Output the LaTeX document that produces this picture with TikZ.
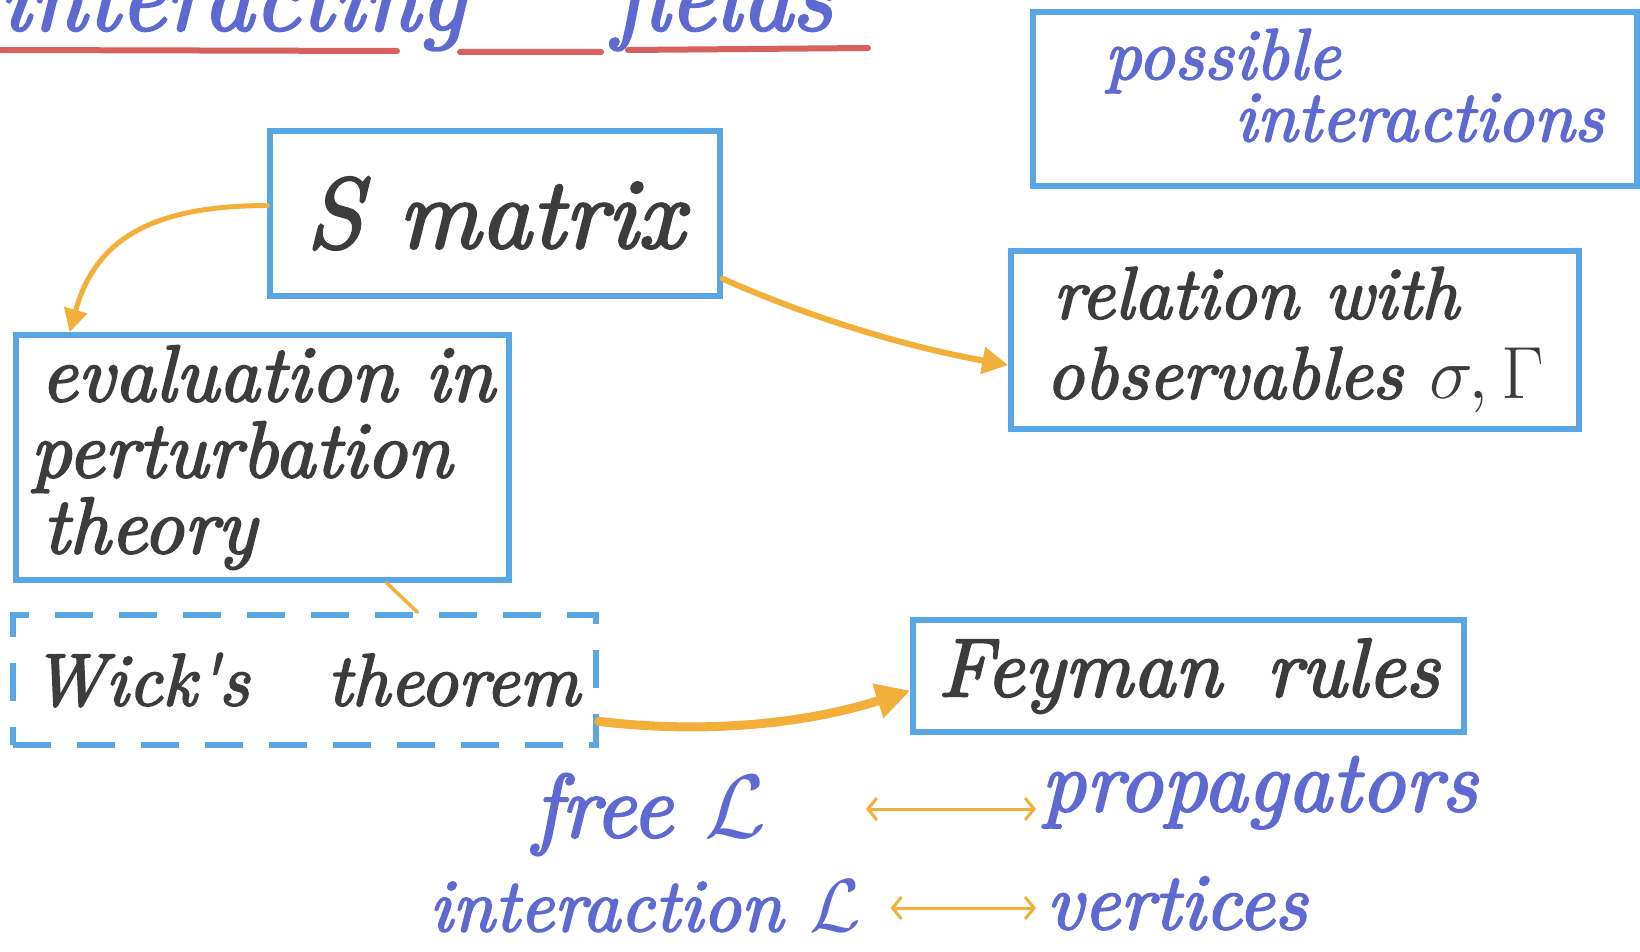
\documentclass[tikz,border=0pt]{standalone}
\usepackage{fix-cm}
\usepackage{fontspec}
\newfontfamily\hwfont{lmroman10-italic.otf}[FakeBold=2.5]
\usetikzlibrary{arrows.meta,calc}
\definecolor{boxblue}{HTML}{58A6E4}
\definecolor{inkgray}{HTML}{3C3C3C}
\definecolor{inkblue}{HTML}{5E6AD2}
\definecolor{markorange}{HTML}{F2B03A}
\definecolor{markred}{HTML}{D6615E}
\tikzset{
  hwbox/.style={draw=boxblue, line width=5.5pt, inner sep=0pt, text=inkgray, align=left,
    font=\hwfont\fontsize{80}{76}\selectfont},
  hwdashbox/.style={hwbox, dash pattern=on 38pt off 26pt},
  bluetext/.style={text=inkblue, inner sep=0pt, anchor=base west,
    font=\hwfont\fontsize{80}{76}\selectfont},
  flow/.style={draw=markorange, line cap=round},
  corr/.style={draw=markorange, line width=3pt, line cap=round,
    {Straight Barb[length=9pt,width=22pt,line width=3pt]}-{Straight Barb[length=9pt,width=22pt,line width=3pt]}}
}
\begin{document}
\begin{tikzpicture}[x=1pt,y=-1pt]
\clip (0,0) rectangle (1640,952);
\useasboundingbox (0,0) rectangle (1640,952);
\fill[white] (0,0) rectangle (1640,952);

% title (cut off at the top, as in the reference)
\node[bluetext, font=\hwfont\fontsize{100}{100}\selectfont] (title) at (-1,30) {interacting\hspace{147pt}fields};
\draw[markred, line width=6pt, line cap=round] (0,50) -- (397,51) (460,52) -- (601,52) (628,50) -- (868,48);

% boxes
\node[hwbox, minimum width=450pt, minimum height=165pt, font=\hwfont\fontsize{100}{100}\selectfont] (sm) at (495,213.5) {S matrix};
\node[hwbox, minimum width=604pt, minimum height=174pt, text depth=28pt, text=inkblue, font=\hwfont\fontsize{72}{62}\selectfont] (pi) at (1335,99) {\hspace*{38pt}possible\\\hspace*{168pt}interactions};
\node[hwbox, minimum width=568pt, minimum height=178pt, font=\hwfont\fontsize{74}{80}\selectfont] (rel) at (1295,340) {\hspace*{7pt}relation with\\observables $\sigma,\Gamma$};
\node[hwbox, minimum width=493pt, minimum height=245pt] (ev) at (262.5,457.5) {\hspace*{10pt}evaluation in\\perturbation\\\hspace*{12pt}theory};
\node[hwdashbox, minimum width=583pt, minimum height=130pt, font=\hwfont\fontsize{74}{76}\selectfont] (wk) at (304.5,680) {\hspace*{2pt}Wick's\hspace{78pt}theorem};
\node[hwbox, minimum width=551pt, minimum height=112pt, font=\hwfont\fontsize{83}{76}\selectfont] (fr) at (1188.5,676) {Feyman\hspace{45pt}rules};

% bottom correspondences
\node[bluetext, font=\hwfont\fontsize{90}{76}\selectfont] (free) at (533,837) {free $\mathcal{L}$};
\node[bluetext, font=\hwfont\fontsize{87}{76}\selectfont] (prop) at (1041,811) {propagators};
\node[bluetext, font=\hwfont\fontsize{75}{76}\selectfont] (inter) at (429,931) {interaction $\mathcal{L}$};
\node[bluetext] (vert) at (1046,929) {vertices};
\draw[corr] ($(free.base east)+(99,-28)$) -- ($(prop.base west)+(-5,-2)$);
\draw[corr] ($(inter.base east)+(29,-23)$) -- ($(vert.base west)+(-10,-21)$);

% connectors
\draw[flow, line width=5pt, -{Triangle[length=23pt,width=23pt]}]
  (sm.178) .. controls +(-120,0) and +(25,-90) .. (ev.147);
\draw[flow, line width=6pt, -{Triangle[length=26pt,width=26pt]}]
  (sm.-16) .. controls +(90,40) and +(-100,-18) .. (rel.185);
\draw[flow, line width=3.5pt] ([xshift=124pt]ev.south) -- ([xshift=113pt]wk.north);
\draw[flow, line width=9pt, -{Triangle[length=34pt,width=34pt]}]
  (wk.-8) .. controls +(100,12) and +(-110,35) .. (fr.183);
\end{tikzpicture}
\end{document}
